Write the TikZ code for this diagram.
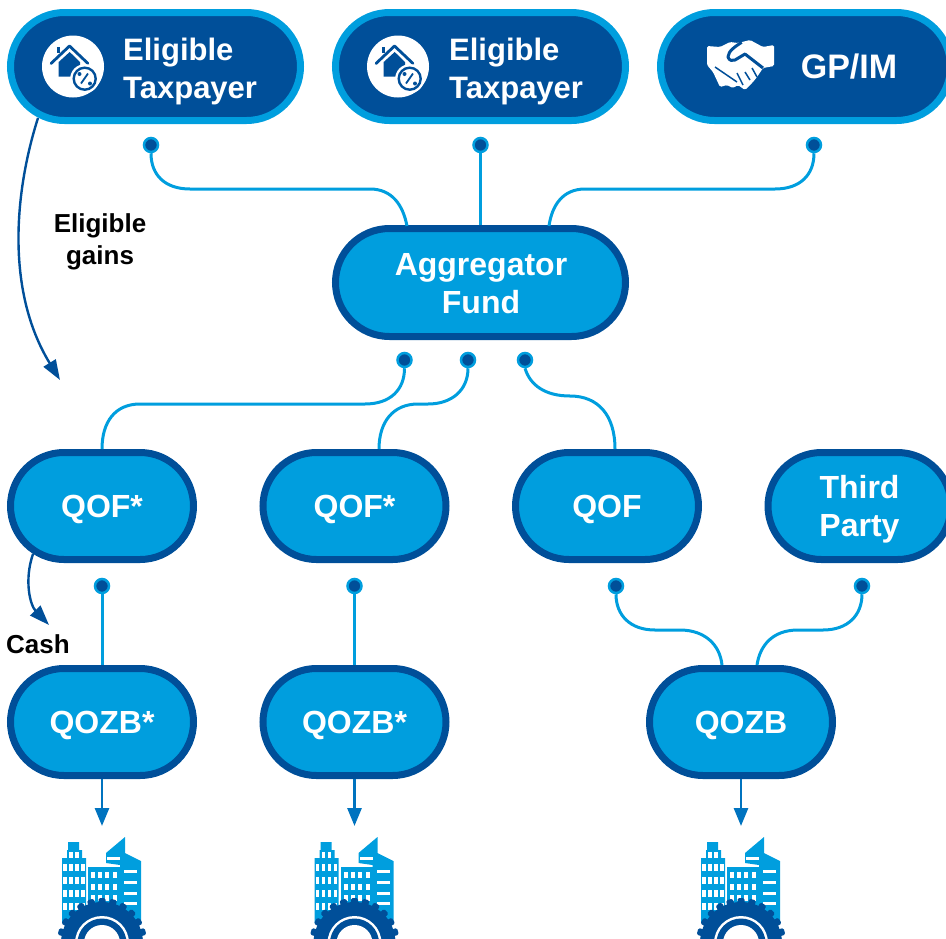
\documentclass[tikz,border=0pt]{standalone}
\usepackage{fontspec}
\setmainfont{Liberation Sans}
\usepackage{tikz}
\usetikzlibrary{shapes.misc,arrows.meta}
\definecolor{navy}{rgb}{0.00, 0.31, 0.60}
\definecolor{sky}{rgb}{0.00, 0.62, 0.87}
\definecolor{arrowblue}{rgb}{0.00, 0.45, 0.75}
\tikzstyle{pill}=[rounded rectangle,rounded rectangle arc length=180,line width=7pt,inner sep=0pt]
\tikzstyle{topbox}=[pill,fill=navy,draw=sky,minimum width=290pt,minimum height=108pt]
\tikzstyle{fundbox}=[pill,fill=sky,draw=navy,minimum width=290pt,minimum height=108pt]
\tikzstyle{midbox}=[pill,fill=sky,draw=navy,minimum width=183pt,minimum height=107pt]
\tikzstyle{pilltext}=[inner sep=0pt,align=center,text=white,yshift=-3pt,font=\fontsize{32}{38}\selectfont\bfseries]
\tikzstyle{payertext}=[pilltext,align=left,anchor=west,font=\fontsize{31}{38}\selectfont\bfseries]
\tikzstyle{dot}=[circle,fill=navy,draw=sky,line width=2.5pt,minimum size=14pt,inner sep=0pt]
\tikzstyle{link}=[color=sky,line width=3pt]
\tikzstyle{feed}=[color=arrowblue,line width=2.8pt,-{Triangle[length=18pt,width=14pt]}]
\tikzstyle{flow}=[color=navy,line width=2.4pt,-{Triangle[length=20pt,width=14pt]}]
\tikzstyle{note}=[font=\fontsize{26}{32}\selectfont\bfseries,align=center,inner sep=0pt]
\newcommand{\houseicon}[2]{%
  \begin{scope}[shift={(#1,#2)}]
    \fill[white] (0,0) circle (31);
    \draw[navy,line width=2.8pt,line cap=round,line join=round] (-22,-3) -- (-3.5,-20.5) -- (15,-3);
    \draw[navy,line width=2.2pt] (-14.5,-14) -- (-14.5,-20);
    \fill[navy] (-14.3,-4.5) -- (-3.3,-14.5) -- (7,-4.5) -- (7,10) -- (-14.3,10) -- cycle;
    \fill[white] (11.7,12.2) circle (14.5);
    \draw[navy,line width=2.4pt] (11.7,12.2) circle (11);
    \draw[navy,line width=1.8pt] (8,17) -- (15,7);
    \fill[navy] (6.5,7.5) circle (2) (17,17) circle (2);
  \end{scope}}
\newcommand{\shakeicon}[2]{%
  \begin{scope}[shift={(#1,#2)}]
    \fill[white,rounded corners=1.5pt] (-34,-20) -- (-21,-19) -- (-11,-24) -- (-3,-23) -- (9,-26) -- (22,-19) -- (33,-21) -- (33,0) -- (22,2) -- (16,11) -- (12,16) -- (4,24) -- (-3,19) -- (-8,22) -- (-14,19) -- (-21,21) -- (-28,6) -- (-34,-1) -- cycle;
    \draw[navy,line width=3pt,line join=round] (0.7,-23.7) .. controls (-5,-20) and (-13,-15) .. (-13,-9) .. controls (-12,-5) and (-8,-5) .. (-6,-6) -- (4,-12) -- (22,2);
    \draw[navy,line width=1.5pt] (-26,1) -- (-4,16) (-4,7) -- (2,19) (4,6) -- (9,14) (11,2) -- (16,11);
  \end{scope}}
\newcommand{\cityicon}[1]{%
  \begin{scope}[shift={(#1,0)}]
    % BUILDINGS
    \fill[sky] (-40,923) -- (-40,858) -- (-35,858) -- (-35,850) -- (-34,850) -- (-34,842) -- (-23,842) -- (-23,850) -- (-20,850) -- (-20,858) -- (-16,858) -- (-16,923) -- cycle;
    \fill[sky] (-14,867) rectangle (18,923);
    \fill[sky] (4,853) -- (23,837) -- (23,853) -- (39,861) -- (39,923) -- (18,923) -- (18,865) -- (4,863) -- cycle;
    \fill[white] (5,857) rectangle (18,860);
    \foreach \wy in {871,882,893,903} {\fill[white] (22,\wy-1.5) rectangle (35,\wy+1.5);}
    \foreach \wx in {-37,-31,-25,-19} {\foreach \wy in {867,880,893,906} {\fill[white] (\wx-1.7,\wy-3.5) rectangle (\wx+1.7,\wy+3.5);}}
    \foreach \wx in {-31,-25} {\fill[white] (\wx-1.7,852) rectangle (\wx+1.7,858);}
    \foreach \wx in {-9,-2,5,13} {\foreach \wy in {875,887,898} {\fill[white] (\wx-2,\wy-3) rectangle (\wx+2,\wy+3);}}
    % GEAR
    \fill[navy] (0,943) circle (41);
    \foreach \ang in {0,15,...,345} {\fill[navy,rounded corners=1.5pt,rotate around={\ang:(0,943)}] (-3.5,898) rectangle (3.5,905);}
    \fill[white] (0,943) circle (27);
    \fill[navy] (0,943) circle (24.5);
    \fill[white] (0,943) circle (18);
  \end{scope}}

\begin{document}
\begin{tikzpicture}[x=1pt,y=-1pt]
  \useasboundingbox (0,0) rectangle (946,938);

  % TOP ROW
  \node[topbox] (payerA) at (155.5,66.5) {};
  \node[topbox] (payerB) at (480.5,66.5) {};
  \node[topbox] (partner) at (805.5,66.5) {};
  \node[payertext] (payerAtxt) at (123,68) {Eligible\\Taxpayer};
  \node[payertext] (payerBtxt) at (449,68) {Eligible\\Taxpayer};
  \node[pilltext,font=\fontsize{34}{38}\selectfont\bfseries] (partnertxt) at (849,64) {GP/IM};
  \houseicon{73}{66.5}
  \houseicon{398}{66.5}
  \shakeicon{741}{66}

  % AGGREGATOR
  \node[fundbox] (aggr) at (480.5,282.5) {};
  \node[pilltext] (aggrtxt) at (481,281) {Aggregator\\Fund};

  % FUNDS
  \node[midbox] (qofA) at (102,506) {};
  \node[midbox] (qofB) at (354.5,506) {};
  \node[midbox] (qofC) at (607,506) {};
  \node[midbox] (third) at (859.5,506) {};
  \node[pilltext] (qofAtxt) at (qofA) {QOF*};
  \node[pilltext] (qofBtxt) at (qofB) {QOF*};
  \node[pilltext] (qofCtxt) at (qofC) {QOF};
  \node[pilltext] (thirdtxt) at (third) {Third\\Party};

  % BUSINESSES
  \node[midbox] (qozbA) at (102,722) {};
  \node[midbox] (qozbB) at (354.5,722) {};
  \node[midbox] (qozbC) at (741,722) {};
  \node[pilltext] (qozbAtxt) at (qozbA) {QOZB*};
  \node[pilltext] (qozbBtxt) at (qozbB) {QOZB*};
  \node[pilltext] (qozbCtxt) at (qozbC) {QOZB};

  % DOTS
  \node[dot] (dotA) at (151,145) {};
  \node[dot] (dotB) at (480.5,145) {};
  \node[dot] (dotC) at (814,145) {};
  \node[dot] (dotD) at (404.5,360) {};
  \node[dot] (dotE) at (468,360) {};
  \node[dot] (dotF) at (525,360) {};
  \node[dot] (dotG) at (102,586) {};
  \node[dot] (dotH) at (354.5,586) {};
  \node[dot] (dotI) at (616,586) {};
  \node[dot] (dotJ) at (862,586) {};

  % CONNECTORS
  \coordinate (aggrL) at (407,226);
  \coordinate (aggrR) at (549,226);
  \coordinate (qofAtop) at (102,449);
  \coordinate (qofBtop) at (379,449);
  \coordinate (qofCtop) at (615,449);
  \coordinate (qozbL) at (722,665);
  \coordinate (qozbR) at (757,665);
  \draw[link] (dotA.south) .. controls (151,175) and (165,189) .. (190,189) -- (370,189) .. controls (392,189) and (403,205) .. (aggrL);
  \draw[link] (dotB) -- (aggr);
  \draw[link] (dotC.south) .. controls (814,175) and (800,189) .. (775,189) -- (585,189) .. controls (563,189) and (552,205) .. (aggrR);
  \draw[link] (dotD.south) .. controls (404.5,390) and (390,404) .. (365,404) -- (140,404) .. controls (115,404) and (102,422) .. (qofAtop);
  \draw[link] (dotE.south) .. controls (468,390) and (452,404) .. (428,404) -- (418,404) .. controls (393,404) and (379,422) .. (qofBtop);
  \draw[link] (dotF.south) .. controls (530,385) and (545,396) .. (570,396) .. controls (598,396) and (615,415) .. (qofCtop);
  \draw[link] (dotG) -- (qozbA);
  \draw[link] (dotH) -- (qozbB);
  \draw[link] (dotI.south) .. controls (616,615) and (630,630) .. (655,630) -- (680,630) .. controls (705,630) and (720,645) .. (qozbL);
  \draw[link] (dotJ.south) .. controls (862,615) and (848,630) .. (823,630) -- (798,630) .. controls (773,630) and (760,645) .. (qozbR);

  % ARROWS
  \coordinate (gainsStart) at (38,118);
  \coordinate (gainsEnd) at (60,380);
  \coordinate (cashStart) at (33,554);
  \coordinate (cashEnd) at (49,625);
  \coordinate (cityA) at (102,826);
  \coordinate (cityB) at (354.5,826);
  \coordinate (cityC) at (741,826);
  \draw[feed] (qozbA) -- (cityA);
  \draw[feed] (qozbB) -- (cityB);
  \draw[feed] (qozbC) -- (cityC);
  \draw[flow] (gainsStart) .. controls (15,190) and (5,290) .. (gainsEnd);
  \draw[flow] (cashStart) .. controls (24,580) and (30,605) .. (cashEnd);

  % LABELS
  \node[note] (gains) at (100,242) {Eligible\\gains};
  \node[note] (cash) at (38,644) {Cash};

  % CITIES
  \cityicon{102}
  \cityicon{354.5}
  \cityicon{741}

\end{tikzpicture}
\end{document}
